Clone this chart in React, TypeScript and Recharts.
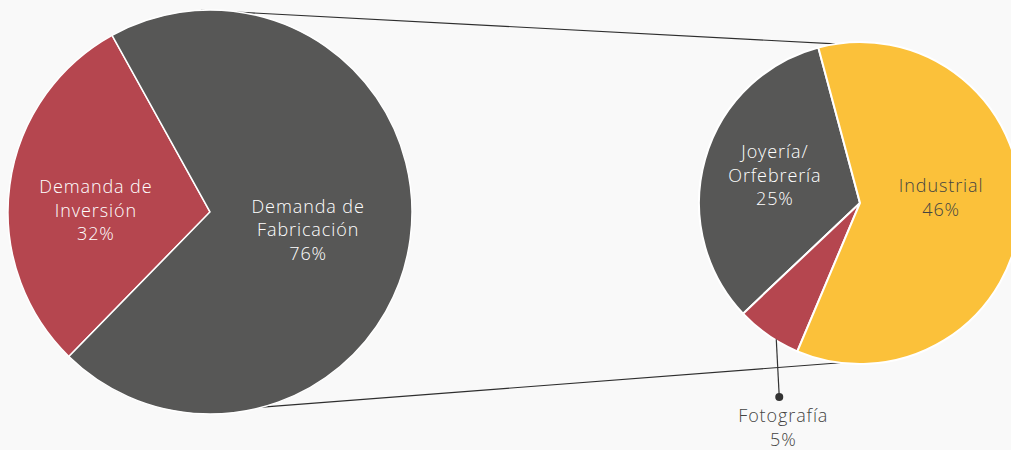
import React from "react";
import { PieChart, Pie, Cell } from "recharts";

// left pie: total demand split
const demandNames = ["Demanda de\nInversión", "Demanda de\nFabricación"];
const demandValues = [32, 76];
const demandColors = ["#b5464f", "#575756"];

// right pie: breakdown of fabrication demand
const fabNames = ["Joyería/\nOrfebrería", "Fotografía", "Industrial"];
const fabValues = [25, 5, 46];
const fabColors = ["#575756", "#b5464f", "#fbc13a"];

const W = 1011;
const H = 450;
const FONT = "'Open Sans', sans-serif";
const LINE = 23.5;

const LEFT = { cx: 210, cy: 212, r: 202, start: 119 };
const RIGHT = { cx: 860, cy: 203, r: 161, start: 105 };

// label nudges (px) so the text blocks sit like the original
const leftNudge = [
   { dx: -8, dy: 12 },
   { dx: -8, dy: 3 },
];
const rightNudge = [
   { dx: -3, dy: -5 },
   { dx: 8, dy: 0 },
   { dx: -4, dy: -12 },
];

const RAD = Math.PI / 180;
const polar = (cx: number, cy: number, r: number, deg: number) => ({
   x: cx + r * Math.cos(-deg * RAD),
   y: cy + r * Math.sin(-deg * RAD),
});

const demandData = demandNames.map(function (name, i) {
   return { name, value: demandValues[i] };
});
const fabData = fabNames.map(function (name, i) {
   return { name, value: fabValues[i] };
});

function MultiLine(props: { x: number; y: number; lines: string[]; fill: string }) {
   const { x, y, lines, fill } = props;
   const top = y - ((lines.length - 1) * LINE) / 2;
   return (
      <text
         x={x}
         y={top}
         fill={fill}
         textAnchor="middle"
         dominantBaseline="central"
         fontFamily={FONT}
         fontSize={18}
         fontWeight={300}
         letterSpacing={0.9}
      >
         {lines.map(function (l, i) {
            return (
               <tspan key={i} x={x} dy={i === 0 ? 0 : LINE}>
                  {l}
               </tspan>
            );
         })}
      </text>
   );
}

const renderDemandLabel = function (p: any) {
   const pt = polar(p.cx, p.cy, p.outerRadius * 0.53, p.midAngle);
   const n = leftNudge[p.index];
   const lines = [...demandNames[p.index].split("\n"), demandValues[p.index] + "%"];
   return <MultiLine x={pt.x + n.dx} y={pt.y + n.dy} lines={lines} fill="#ffffff" />;
};

const renderFabLabel = function (p: any) {
   const i = p.index;
   const n = rightNudge[i];
   const lines = [...fabNames[i].split("\n"), fabValues[i] + "%"];
   if (fabNames[i] === "Fotografía") {
      const a = polar(p.cx, p.cy, p.outerRadius, p.midAngle);
      const x0 = a.x + n.dx;
      const dotY = p.cy + 194;
      return (
         <g>
            <line x1={x0} y1={a.y + 4} x2={x0 + 3} y2={dotY} stroke="#333" strokeWidth={1.2} />
            <circle cx={x0 + 3} cy={dotY} r={4} fill="#333" />
            <MultiLine x={x0 + 7} y={dotY + 30} lines={lines} fill="#444442" />
         </g>
      );
   }
   const pt = polar(p.cx, p.cy, p.outerRadius * 0.53, p.midAngle);
   return (
      <MultiLine
         x={pt.x + n.dx}
         y={pt.y + n.dy}
         lines={lines}
         fill={i === 0 ? "#ffffff" : "#444442"}
      />
   );
};

// connector lines between the two pies
function Connectors() {
   const a1 = polar(LEFT.cx, LEFT.cy, LEFT.r, 92.6);
   const b1 = polar(RIGHT.cx, RIGHT.cy, RIGHT.r, 98.8);
   const a2 = polar(LEFT.cx, LEFT.cy, LEFT.r, -75);
   const b2 = polar(RIGHT.cx, RIGHT.cy, RIGHT.r, -97);
   return (
      <svg width={W} height={H} style={{ position: "absolute", left: 0, top: 0 }}>
         <line x1={a1.x} y1={a1.y} x2={b1.x} y2={b1.y} stroke="#2e2e2e" strokeWidth={1.1} />
         <line x1={a2.x} y1={a2.y} x2={b2.x} y2={b2.y} stroke="#2e2e2e" strokeWidth={1.1} />
      </svg>
   );
}

export default function App() {
   return (
      <div
         style={{
            position: "absolute",
            left: 0,
            top: 0,
            width: W,
            height: H,
            background: "#f9f9f9",
            overflow: "hidden",
         }}
      >
         <Connectors />
         <div style={{ position: "absolute", left: 0, top: 0 }}>
            <PieChart width={W} height={H} margin={{ top: 0, right: 0, bottom: 0, left: 0 }}>
               <Pie
                  data={demandData}
                  dataKey="value"
                  cx={LEFT.cx}
                  cy={LEFT.cy}
                  outerRadius={LEFT.r}
                  startAngle={LEFT.start}
                  endAngle={LEFT.start + 360}
                  stroke="#ffffff"
                  strokeWidth={1.5}
                  label={renderDemandLabel}
                  labelLine={false}
                  isAnimationActive={false}
               >
                  {demandData.map(function (d, i) {
                     return <Cell key={d.name} fill={demandColors[i]} />;
                  })}
               </Pie>
               <Pie
                  data={fabData}
                  dataKey="value"
                  cx={RIGHT.cx}
                  cy={RIGHT.cy}
                  outerRadius={RIGHT.r}
                  startAngle={RIGHT.start}
                  endAngle={RIGHT.start + 360}
                  stroke="#ffffff"
                  strokeWidth={2}
                  label={renderFabLabel}
                  labelLine={false}
                  isAnimationActive={false}
               >
                  {fabData.map(function (d, i) {
                     return <Cell key={d.name} fill={fabColors[i]} />;
                  })}
               </Pie>
            </PieChart>
         </div>
      </div>
   );
}
